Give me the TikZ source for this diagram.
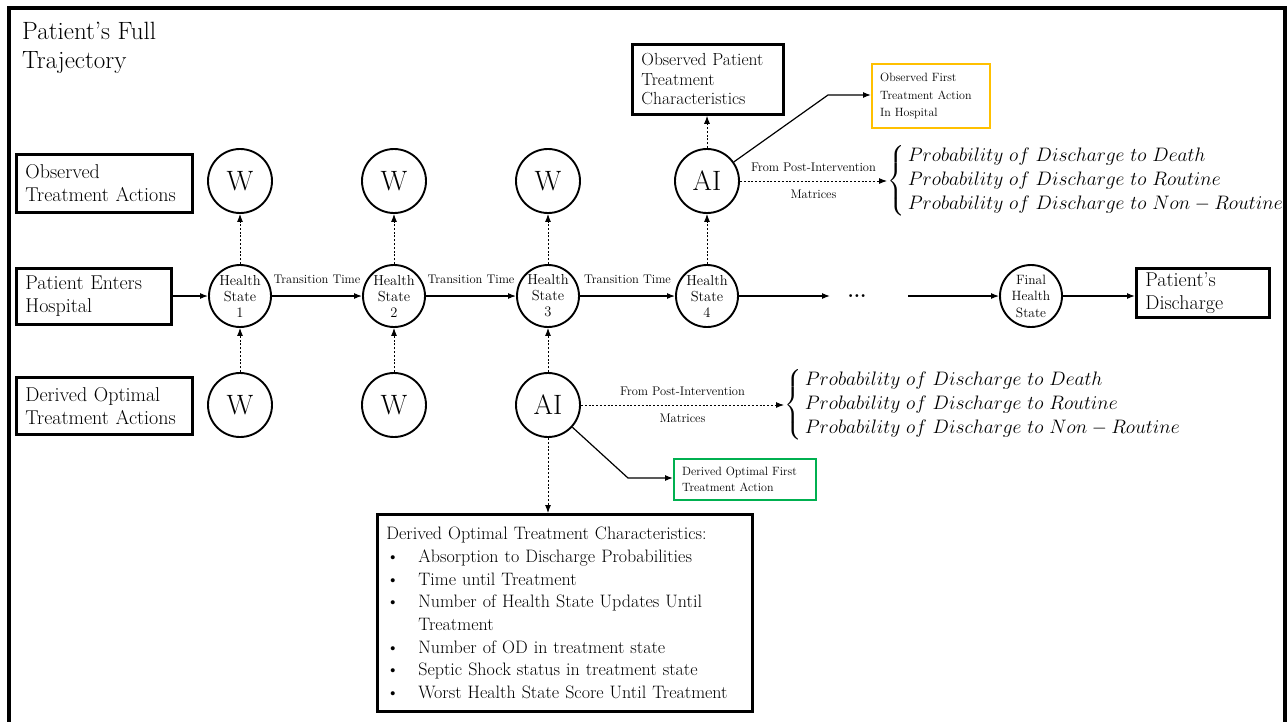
\documentclass[tikz,border=0pt]{standalone}
\usepackage{amsmath}
\usepackage{graphicx}
\usepackage{tikz}
\usetikzlibrary{arrows.meta,positioning}
\tikzset{>={Latex[width=6pt,length=8pt]}}
\definecolor{obsorange}{RGB}{255,192,0}
\definecolor{optgreen}{RGB}{0,176,80}
\tikzset{
  textbox/.style={draw,line width=2.8pt,align=left,anchor=north west,inner xsep=9pt,inner ysep=0pt,font=\fontsize{20}{23}\selectfont},
  smallbox/.style={draw,line width=2.2pt,align=left,anchor=north west,inner xsep=8pt,inner ysep=0pt,font=\fontsize{12}{17.5}\selectfont},
  statenode/.style={circle,draw,line width=1.9pt,minimum size=62pt,inner sep=0pt,align=center,font=\fontsize{14.5}{16}\selectfont},
  actnode/.style={circle,draw,line width=1.9pt,minimum size=64pt,inner sep=0pt,font=\fontsize{28}{28}\selectfont},
  flow/.style={->,line width=1.2pt},
  dotflow/.style={->,line width=0.9pt,dash pattern=on 2pt off 1.8pt},
  edgelab/.style={font=\fontsize{12.5}{14}\selectfont,inner sep=0pt},
  probtext/.style={anchor=west,inner sep=0pt,font=\fontsize{20.74}{25.5}\selectfont},
}
\newcommand\probcases{\scalebox{0.94}{$\left\{\begin{array}{@{\,}l@{}}
    Probability\ of\ Discharge\ to\ Death\\
    Probability\ of\ Discharge\ to\ Routine\\
    Probability\ of\ Discharge\ to\ Non-Routine
  \end{array}\right.$}}

\begin{document}
\begin{tikzpicture}[x=1pt,y=-1pt]
  \useasboundingbox (0,0) rectangle (1287,721);
  \draw[line width=3.6pt] (9,730) -- (9,8) -- (1285,8) -- (1285,730);

  \node[anchor=north west,align=left,inner sep=0pt,font=\fontsize{25}{28.5}\selectfont] (title) at (22,22) {Patient’s Full\\Trajectory};

  %% label boxes on the left
  \node[textbox,text width=158pt,minimum height=58pt] (obsbox) at (15,153) {Observed\\Treatment Actions};
  \node[textbox,text width=137pt,minimum height=56pt] (enterbox) at (15,267) {Patient Enters\\Hospital};
  \node[textbox,text width=158pt,minimum height=57pt] (derbox) at (15,376) {Derived Optimal\\Treatment Actions};
  \node[textbox,text width=115pt,minimum height=49pt] (dischbox) at (1135,267) {Patient’s\\Discharge};
  \node[textbox,text width=133pt,minimum height=70pt,font=\fontsize{17.5}{19.5}\selectfont] (charbox) at (631,43) {Observed Patient\\Treatment\\Characteristics};

  %% health states
  \node[statenode] (hs1) at (240,296) {Health\\State\\1};
  \node[statenode] (hs2) at (394,296) {Health\\State\\2};
  \node[statenode] (hs3) at (548,296) {Health\\State\\3};
  \node[statenode] (hs4) at (707,296) {Health\\State\\4};
  \node[statenode,font=\fontsize{13.5}{16.5}\selectfont] (hsfin) at (1031,296) {Final\\Health\\State};
  \node[inner sep=0pt,font=\fontsize{20}{20}\selectfont\bfseries] (dots) at (857,296) {...};
  \coordinate (dotsin) at (830,296);
  \coordinate (dotsout) at (908,296);

  %% observed actions (top) and derived actions (bottom)
  \node[actnode] (wtop1) at (240,181) {W};
  \node[actnode] (wtop2) at (394,181) {W};
  \node[actnode] (wtop3) at (548,181) {W};
  \node[actnode] (aitop) at (707,181) {AI};
  \node[actnode] (wbot1) at (240,405) {W};
  \node[actnode] (wbot2) at (394,405) {W};
  \node[actnode] (aibot) at (548,405) {AI};

  %% first actions
  \node[smallbox,draw=obsorange,text width=102pt,minimum height=64pt] (obsfirst) at (871,63) {Observed First\\Treatment Action\\In Hospital};
  \node[smallbox,draw=optgreen,text width=126pt,minimum height=41pt,font=\fontsize{12}{16}\selectfont] (optfirst) at (673,458) {Derived Optimal First\\Treatment Action};
  \coordinate (kinktop) at (828,95);
  \coordinate (kinkbot) at (628,478);

  %% discharge probabilities
  \node[probtext] (probtop) at (887,181) {\probcases};
  \node[probtext] (probbot) at (784,405) {\probcases};

  %% characteristics box
  \node[textbox,text width=357pt,minimum height=197pt,font=\fontsize{18}{22.7}\selectfont] (optchar) at (376,513) {Derived Optimal Treatment Characteristics:\\
    \makebox[32pt][l]{\textbullet}Absorption to Discharge Probabilities\\
    \makebox[32pt][l]{\textbullet}Time until Treatment\\
    \makebox[32pt][l]{\textbullet}Number of Health State Updates Until\\
    \hspace*{32pt}Treatment\\
    \makebox[32pt][l]{\textbullet}Number of OD in treatment state\\
    \makebox[32pt][l]{\textbullet}Septic Shock status in treatment state\\
    \makebox[32pt][l]{\textbullet}Worst Health State Score Until Treatment};

  %% trajectory
  \draw[flow] (enterbox.east |- hs1) -- (hs1);
  \draw[flow] (hs1) -- node[edgelab,above=12pt]{Transition Time} (hs2);
  \draw[flow] (hs2) -- node[edgelab,above=12pt]{Transition Time} (hs3);
  \draw[flow] (hs3) -- node[edgelab,above=12pt]{Transition Time} (hs4);
  \draw[flow] (hs4) -- (dotsin);
  \draw[flow] (dotsout) -- (hsfin);
  \draw[flow] (hsfin) -- (hsfin -| dischbox.west);

  %% actions
  \draw[dotflow] (hs1) -- (wtop1);
  \draw[dotflow] (hs2) -- (wtop2);
  \draw[dotflow] (hs3) -- (wtop3);
  \draw[dotflow] (hs4) -- (aitop);
  \draw[dotflow] (wbot1) -- (hs1);
  \draw[dotflow] (wbot2) -- (hs2);
  \draw[dotflow] (aibot) -- (hs3);

  %% observed side
  \draw[dotflow] (aitop) -- (aitop |- charbox.south);
  \draw[flow] (aitop) -- (kinktop) -- (obsfirst.west |- kinktop);
  \draw[dotflow] (aitop) -- node[edgelab,above=9pt]{From Post-Intervention} node[edgelab,below=9pt]{Matrices} (probtop.west);

  %% derived side
  \draw[dotflow] (aibot) -- (aibot |- optchar.north);
  \draw[flow] (aibot) -- (kinkbot) -- (optfirst.west |- kinkbot);
  \draw[dotflow] (aibot) -- node[edgelab,above=9pt]{From Post-Intervention} node[edgelab,below=9pt]{Matrices} (probbot.west);
\end{tikzpicture}
\end{document}
